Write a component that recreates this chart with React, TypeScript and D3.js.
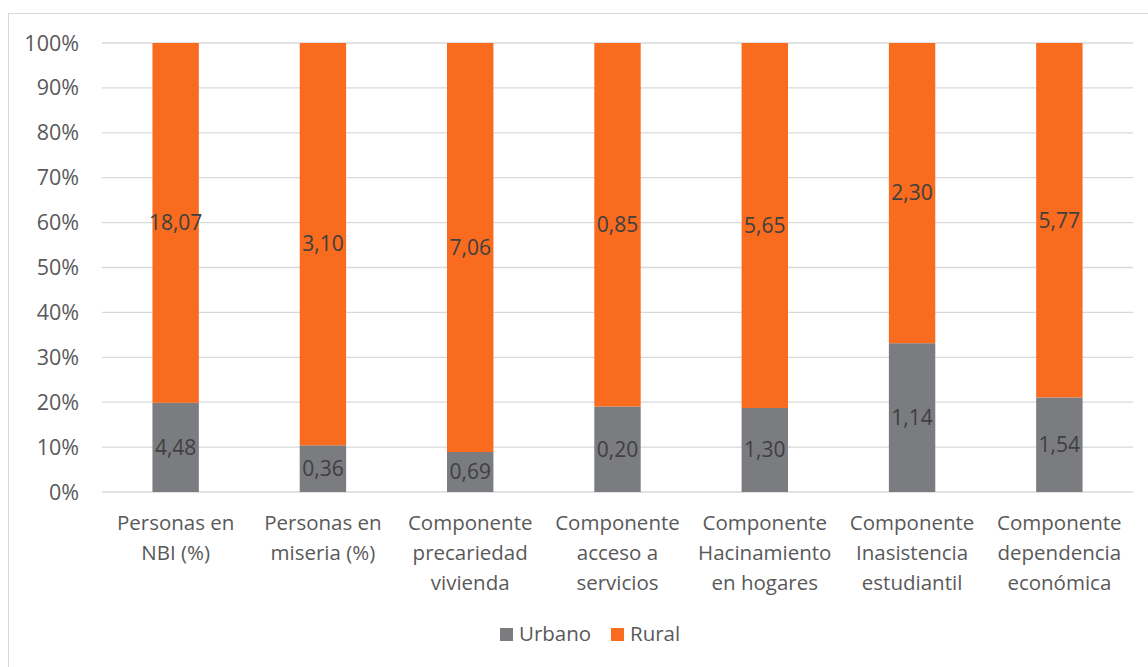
import React from "react";
import * as d3 from "d3";

const categories: string[][] = [
  ["Personas en", "NBI (%)"],
  ["Personas en", "miseria (%)"],
  ["Componente", "precariedad", "vivienda"],
  ["Componente", "acceso a", "servicios"],
  ["Componente", "Hacinamiento", "en hogares"],
  ["Componente", "Inasistencia", "estudiantil"],
  ["Componente", "dependencia", "económica"],
];
const urbano = [4.48, 0.36, 0.69, 0.2, 1.3, 1.14, 1.54];
const rural = [18.07, 3.1, 7.06, 0.85, 5.65, 2.3, 5.77];
const yTicks = [0, 0.1, 0.2, 0.3, 0.4, 0.5, 0.6, 0.7, 0.8, 0.9, 1];
const seriesNames = ["Urbano", "Rural"];
const colors = ["#7b7c80", "#f96b1e"];

const W = 1148;
const H = 667;
const left = 102;
const right = 1133;
const top = 43;
const bottom = 492;
const FONT = "'Open Sans', sans-serif";

export default function App() {
  const idx = categories.map((_, i) => String(i));
  const x = d3.scaleBand<string>().domain(idx).range([left, right]).paddingInner(0.685).paddingOuter(0.3425);
  const y = d3.scaleLinear().domain([0, 1]).range([bottom, top]);
  const fmt = (v: number) => v.toFixed(2).replace(".", ",");
  const pct = d3.format(".0%");

  const rows = categories.map((_, i) => ({ i: String(i), Urbano: urbano[i], Rural: rural[i] }));
  const stack = d3.stack<any>().keys(seriesNames).offset(d3.stackOffsetExpand);
  const layers = stack(rows);

  return (
    <svg width={W} height={H} style={{ position: "absolute", left: 0, top: 0, background: "#fff" }}>
      <rect x={8.5} y={13.5} width={1160} height={680} fill="#fff" stroke="#d9d9d9" strokeWidth={1} />
      {yTicks.map((t) => (
        <g key={t}>
          <line x1={left} x2={right} y1={y(t)} y2={y(t)} stroke="#d9d9d9" strokeWidth={1.3} />
          <text x={79} y={y(t)} dy="0.35em" textAnchor="end" fontFamily={FONT} fontSize={21.5} fill="#595959">
            {pct(t)}
          </text>
        </g>
      ))}
      {layers.map((layer, si) => (
        <g key={layer.key}>
          {layer.map((d, i) => {
            const x0 = x(String(i))!;
            const y0 = y(d[1]);
            const y1 = y(d[0]);
            const vals = si === 0 ? urbano : rural;
            return (
              <g key={i}>
                <rect x={x0} y={y0} width={x.bandwidth()} height={y1 - y0} fill={colors[si]} />
                <text
                  x={x0 + x.bandwidth() / 2}
                  y={(y0 + y1) / 2}
                  dy="0.35em"
                  textAnchor="middle"
                  fontFamily={FONT}
                  fontSize={21}
                  fill="#404040"
                >
                  {fmt(vals[i])}
                </text>
              </g>
            );
          })}
        </g>
      ))}
      {categories.map((lines, i) => (
        <text key={i} textAnchor="middle" fontFamily={FONT} fontSize={20.5} fill="#595959">
          {lines.map((l, j) => (
            <tspan key={j} x={x(String(i))! + x.bandwidth() / 2} y={530 + j * 30}>
              {l}
            </tspan>
          ))}
        </text>
      ))}
      <g>
        <rect x={500} y={628} width={13} height={13} fill={colors[0]} />
        <text x={519} y={641} fontFamily={FONT} fontSize={20.5} fill="#595959">
          {seriesNames[0]}
        </text>
        <rect x={611} y={628} width={13} height={13} fill={colors[1]} />
        <text x={630} y={641} fontFamily={FONT} fontSize={20.5} fill="#595959">
          {seriesNames[1]}
        </text>
      </g>
    </svg>
  );
}
